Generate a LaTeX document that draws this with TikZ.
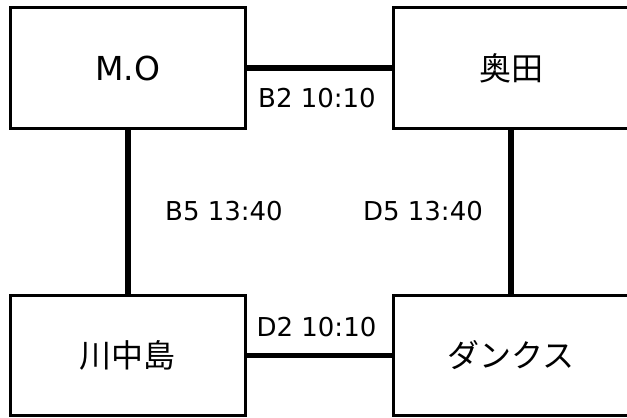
\documentclass[tikz,border=0pt]{standalone}
\usepackage{fontspec}
\setmainfont{DejaVu Sans}
\newfontfamily\jpfont{Noto Sans CJK JP}
\begin{document}
\begin{tikzpicture}[x=1pt,y=-1pt,
  box/.style={draw=black,line width=3pt,inner sep=0pt,fill=white},
  topbox/.style={box,minimum height=121pt},
  botbox/.style={box,minimum height=119.5pt},
  conn/.style={line width=5.5pt,black},
  lbl/.style={inner sep=0pt,font=\fontsize{26}{30}\selectfont},
  latin/.style={font=\fontsize{33}{38}\selectfont},
  jp/.style={font=\jpfont\fontsize{32}{38}\selectfont}]
\useasboundingbox (0,0) rectangle (627,418);
\fill[white] (0,0) rectangle (627,418);
\clip (0,0) rectangle (627,418);
\node[topbox,latin,minimum width=235.5pt] (tl) at (127.75,68) {M.O};
\node[topbox,jp,minimum width=235pt] (tr) at (511,68) {奥田};
\node[botbox,jp,minimum width=235.5pt] (bl) at (127.75,355.25) {川中島};
\node[botbox,jp,minimum width=235pt] (br) at (511,355.25) {ダンクス};
\draw[conn] (tl.east) -- (tr.west);
\draw[conn] (bl.east) -- (br.west);
\draw[conn] (tl.south) -- (bl.north);
\draw[conn] (tr.south) -- (br.north);
\node[lbl] (b2) at (317,98.5) {B2 10:10};
\node[lbl] (d2) at (316.5,327.5) {D2 10:10};
\node[lbl] (b5) at (224,211.5) {B5 13:40};
\node[lbl] (d5) at (423,211.5) {D5 13:40};
\end{tikzpicture}
\end{document}
